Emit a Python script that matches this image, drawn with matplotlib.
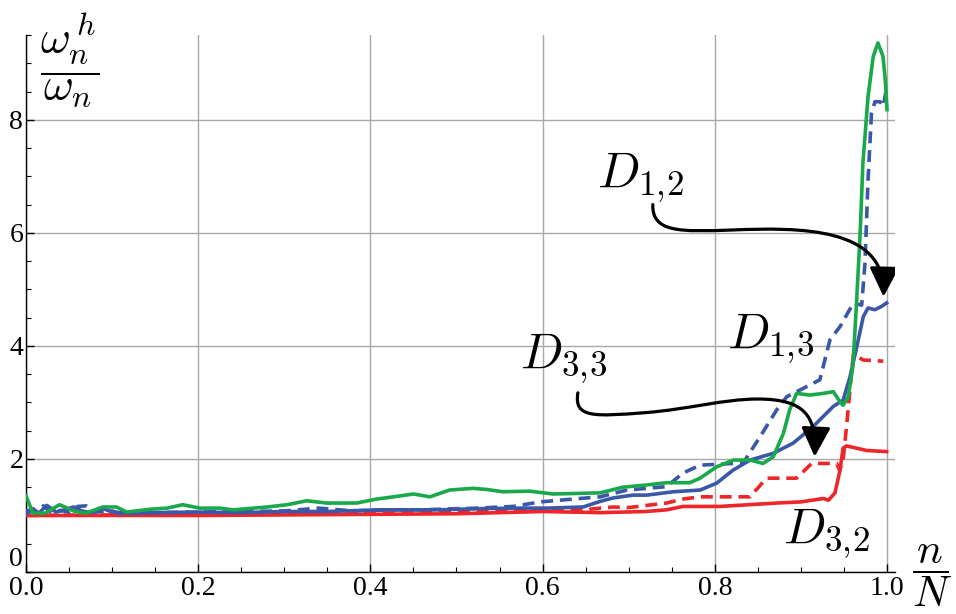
import matplotlib
matplotlib.use("Agg")
import matplotlib.pyplot as plt
from matplotlib.path import Path
from matplotlib.patches import FancyArrowPatch
from matplotlib.ticker import MultipleLocator

plt.rcParams['mathtext.fontset'] = 'cm'
plt.rcParams['font.family'] = ['Liberation Serif', 'DejaVu Serif']

# ---------------- data ----------------
green_x = [0.0, 0.008, 0.022, 0.039, 0.057, 0.070, 0.089, 0.105, 0.117, 0.144, 0.164, 0.182, 0.202, 0.225,
           0.241, 0.280, 0.303, 0.326, 0.349, 0.384, 0.407, 0.427, 0.450, 0.469, 0.492, 0.519, 0.535, 0.554,
           0.585, 0.612, 0.667, 0.693, 0.721, 0.744, 0.771, 0.783, 0.802, 0.8215, 0.841, 0.856, 0.868, 0.8796,
           0.887, 0.895, 0.9106, 0.926, 0.9377, 0.9454, 0.949, 0.955, 0.9605, 0.965, 0.969, 0.972, 0.978,
           0.984, 0.9895, 0.9954, 0.998, 1.0]
green_y = [1.35, 1.04, 1.04, 1.19, 1.07, 1.04, 1.15, 1.15, 1.06, 1.11, 1.13, 1.19, 1.13, 1.13,
           1.10, 1.15, 1.19, 1.26, 1.22, 1.22, 1.29, 1.33, 1.38, 1.33, 1.45, 1.48, 1.46, 1.42,
           1.43, 1.38, 1.40, 1.50, 1.54, 1.58, 1.58, 1.66, 1.86, 1.98, 1.98, 1.92, 2.04, 2.45,
           2.87, 3.16, 3.13, 3.16, 3.19, 3.01, 2.95, 3.10, 3.65, 4.87, 6.05, 7.23, 8.41,
           9.12, 9.36, 9.12, 8.70, 8.18]

blue_solid_x = [0.0, 0.008, 0.015, 0.024, 0.035, 0.045, 0.055, 0.065, 0.075, 0.090, 0.100, 0.120, 0.150,
                0.200, 0.250, 0.300, 0.350, 0.411, 0.480, 0.527, 0.566, 0.605, 0.647, 0.667, 0.682, 0.705,
                0.721, 0.752, 0.783, 0.802, 0.821, 0.841, 0.868, 0.891, 0.914, 0.9377, 0.949, 0.957, 0.965,
                0.9725, 0.978, 0.986, 0.9938, 0.9996]
blue_solid_y = [1.02, 1.12, 1.04, 1.18, 1.06, 1.10, 1.15, 1.08, 1.05, 1.12, 1.06, 1.04, 1.05,
                1.06, 1.05, 1.07, 1.07, 1.10, 1.10, 1.12, 1.13, 1.13, 1.15, 1.25, 1.31, 1.36,
                1.36, 1.42, 1.45, 1.57, 1.80, 1.98, 2.10, 2.28, 2.57, 2.93, 3.04, 3.45, 3.99,
                4.52, 4.67, 4.64, 4.70, 4.76]

blue_dash_x = [0.0, 0.010, 0.020, 0.030, 0.040, 0.050, 0.060, 0.070, 0.080, 0.100, 0.110, 0.150, 0.200,
               0.300, 0.340, 0.380, 0.420, 0.460, 0.500, 0.527, 0.550, 0.566, 0.597, 0.643, 0.667, 0.698,
               0.744, 0.763, 0.783, 0.833, 0.8525, 0.872, 0.8835, 0.899, 0.922, 0.9338, 0.9454, 0.961,
               0.9706, 0.9744, 0.978, 0.982, 0.986, 0.992, 0.9957, 0.9988]
blue_dash_y = [1.10, 1.05, 1.17, 1.05, 1.09, 1.06, 1.16, 1.17, 1.06, 1.08, 1.03, 1.05, 1.06,
               1.08, 1.13, 1.08, 1.10, 1.10, 1.12, 1.13, 1.15, 1.16, 1.24, 1.30, 1.33, 1.45,
               1.51, 1.75, 1.89, 1.93, 2.39, 2.87, 3.10, 3.22, 3.40, 4.11, 4.34, 4.76,
               4.72, 5.46, 6.94, 8.12, 8.32, 8.32, 8.24, 8.50]

red_solid_x = [0.0, 0.1, 0.2, 0.3, 0.4, 0.5, 0.55, 0.6, 0.667, 0.72, 0.744, 0.763, 0.806, 0.85, 0.872,
               0.90, 0.926, 0.932, 0.9396, 0.9454, 0.949, 0.953, 0.965, 0.976, 0.9996]
red_solid_y = [1.00, 1.00, 1.00, 1.01, 1.02, 1.03, 1.05, 1.07, 1.05, 1.07, 1.10, 1.16, 1.16, 1.20, 1.22,
               1.24, 1.30, 1.27, 1.40, 1.80, 2.19, 2.23, 2.19, 2.15, 2.13]

red_dash_x = [0.0, 0.1, 0.2, 0.3, 0.4, 0.45, 0.5, 0.55, 0.6, 0.647, 0.667, 0.682, 0.70, 0.744, 0.763,
              0.783, 0.841, 0.860, 0.895, 0.9125, 0.9416, 0.945, 0.949, 0.953, 0.957, 0.959, 0.961,
              0.9725, 0.9957]
red_dash_y = [1.00, 1.01, 1.02, 1.03, 1.04, 1.05, 1.07, 1.10, 1.10, 1.10, 1.13, 1.15, 1.14, 1.22, 1.29,
              1.33, 1.33, 1.66, 1.66, 1.92, 1.92, 1.80, 1.98, 2.57, 3.22, 3.57, 3.85,
              3.75, 3.73]

x_ticks = [0.0, 0.2, 0.4, 0.6, 0.8, 1.0]
x_tick_labels = ['0.0', '0.2', '0.4', '0.6', '0.8', '1.0']
y_ticks = [0, 2, 4, 6, 8]
y_tick_labels = ['0', '2', '4', '6', '8']

GREEN = '#19a84a'
BLUE = '#3a57a8'
RED = '#ee2529'

# ---------------- figure ----------------
fig = plt.figure(figsize=(9.56, 6.14), dpi=100)
ax = fig.add_axes([26/956, 42/614, 869/956, 537/614])
ax.set_xlim(0, 1.0093)
ax.set_ylim(0, 9.50)

lw = 2.6
ax.plot(red_solid_x, red_solid_y, color=RED, lw=lw, solid_joinstyle='round', zorder=3)
ax.plot(red_dash_x, red_dash_y, color=RED, lw=lw, ls=(0, (3.3, 1.9)), zorder=3)
ax.plot(blue_solid_x, blue_solid_y, color=BLUE, lw=lw, solid_joinstyle='round', zorder=4)
ax.plot(blue_dash_x, blue_dash_y, color=BLUE, lw=lw, ls=(0, (3.3, 1.9)), zorder=4)
ax.plot(green_x, green_y, color=GREEN, lw=lw, solid_joinstyle='round', zorder=5)

# axes styling
for s in ['top', 'right']:
    ax.spines[s].set_visible(False)
for s in ['left', 'bottom']:
    ax.spines[s].set_linewidth(1.0)
    ax.spines[s].set_color('black')

ax.set_xticks(x_ticks)
ax.set_xticklabels(x_tick_labels)
ax.set_yticks(y_ticks)
ax.set_yticklabels(y_tick_labels)
ax.xaxis.set_minor_locator(MultipleLocator(0.05))
ax.yaxis.set_minor_locator(MultipleLocator(0.5))
ax.tick_params(which='major', direction='in', length=6, width=1.0, labelsize=20, pad=3)
ax.tick_params(which='minor', direction='in', length=3.5, width=0.8)
ax.tick_params(axis='y', pad=2)
ax.get_yticklabels()[0].set_verticalalignment('bottom')
ax.grid(True, which='major', color='#a8a8a8', lw=1.0, zorder=0)
ax.set_axisbelow(True)

# annotations
fs = 36
ax.text(0.663, 6.80, r'$D_{1,\!2}$', fontsize=fs, ha='left', va='baseline', zorder=6)
ax.text(0.814, 3.96, r'$D_{1,\!3}$', fontsize=fs, ha='left', va='baseline', zorder=6)
ax.text(0.574, 3.60, r'$D_{3,\!3}$', fontsize=fs, ha='left', va='baseline', zorder=6)
ax.text(0.879, 0.51, r'$D_{3,\!2}$', fontsize=fs, ha='left', va='baseline', zorder=6)

path1 = Path([(0.728, 6.50), (0.727, 6.00), (0.76, 6.02), (0.82, 6.05),
              (0.90, 6.10), (0.998, 6.10), (0.996, 4.87)],
             [Path.MOVETO, Path.CURVE4, Path.CURVE4, Path.CURVE4,
              Path.CURVE4, Path.CURVE4, Path.CURVE4])
path2 = Path([(0.641, 3.17), (0.636, 2.72), (0.66, 2.75), (0.72, 2.82),
              (0.77, 2.88), (0.81, 3.06), (0.85, 3.06),
              (0.905, 3.06), (0.918, 2.75), (0.916, 2.04)],
             [Path.MOVETO, Path.CURVE4, Path.CURVE4, Path.CURVE4,
              Path.CURVE4, Path.CURVE4, Path.CURVE4,
              Path.CURVE4, Path.CURVE4, Path.CURVE4])
for p in (path1, path2):
    arr = FancyArrowPatch(path=p, arrowstyle='-|>,head_length=0.9,head_width=0.45',
                          mutation_scale=20, color='black', lw=2.3, zorder=7)
    ax.add_patch(arr)

# axis labels
fig.text(70/956, 1 - 60/614, r'$\dfrac{\omega_n^{\,h}}{\omega_n}$', fontsize=33,
         ha='center', va='center')
fig.text(932/956, 1 - 576/614, r'$\dfrac{n}{N}$', fontsize=31, ha='center', va='center')

fig.savefig('out.png', dpi=100)
